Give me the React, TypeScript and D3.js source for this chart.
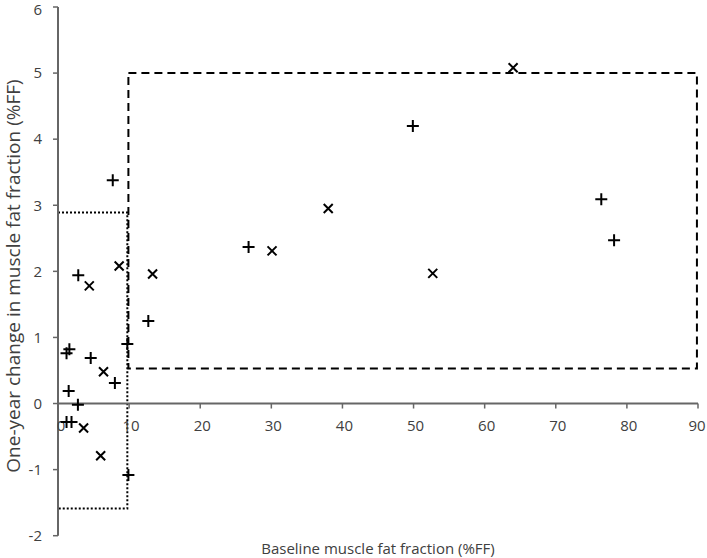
import React from "react";
import * as d3 from "d3";

const plusX = [7.7, 1.6, 1.2, 4.6, 8.0, 1.5, 2.8, 1.2, 1.9, 9.9, 9.75, 12.7, 2.85, 26.8, 49.9, 76.4, 78.2];
const plusY = [3.38, 0.82, 0.76, 0.69, 0.31, 0.19, -0.02, -0.28, -0.28, -1.08, 0.9, 1.25, 1.94, 2.37, 4.2, 3.09, 2.47];

const crossX = [64.0, 38.0, 30.1, 52.7, 4.4, 8.6, 13.3, 6.4, 3.6, 6.0];
const crossY = [5.08, 2.95, 2.31, 1.97, 1.78, 2.08, 1.96, 0.48, -0.37, -0.79];

const xTicks = [0, 10, 20, 30, 40, 50, 60, 70, 80, 90];
const yTicks = [-2, -1, 0, 1, 2, 3, 4, 5, 6];

// regions: [x0, x1, y0, y1]
const dottedBox = [0, 9.75, -1.59, 2.89];
const dashedBox = [9.9, 89.85, 0.53, 5.0];

const xTitle = "Baseline muscle fat fraction (%FF)";
const yTitle = "One-year change in muscle fat fraction (%FF)";

export default function App() {
  const W = 707;
  const H = 558;
  const x = d3.scaleLinear().domain([0, 90]).range([58, 698]);
  const y = d3.scaleLinear().domain([-2, 6]).range([535.7, 7]);
  const axisColor = "#666";
  const font = "'Open Sans', 'Noto Sans', sans-serif";

  const boxPath = (b: number[]) =>
    `M${x(b[0])},${y(b[3])}H${x(b[1])}V${y(b[2])}H${x(b[0])}Z`;

  const xLabelShift = (t: number) => (t === 0 ? 3 : t === 90 ? -1 : 2);

  return (
    <svg
      width={W}
      height={H}
      style={{ position: "absolute", left: 0, top: 0, background: "#fff" }}
      fontFamily={font}
    >
      {/* boxes */}
      <path d={boxPath(dottedBox)} fill="none" stroke="#000" strokeWidth={2} strokeDasharray="2,2" />
      <path d={boxPath(dashedBox)} fill="none" stroke="#000" strokeWidth={2} strokeDasharray="8,5" />

      {/* y axis */}
      <line x1={x(0)} x2={x(0)} y1={y(-2)} y2={y(6)} stroke={axisColor} strokeWidth={2} />
      {yTicks.map((t) => (
        <g key={"y" + t}>
          <line x1={x(0) - 5} x2={x(0)} y1={y(t)} y2={y(t)} stroke={axisColor} strokeWidth={1.5} />
          <text x={x(0) - 16} y={y(t) + (t === 6 ? 2.5 : 0)} dy="0.35em" textAnchor="end" fontSize={15} fill="#404040">
            {t}
          </text>
        </g>
      ))}

      {/* x axis */}
      <line x1={x(0)} x2={x(90)} y1={y(0)} y2={y(0)} stroke={axisColor} strokeWidth={2} />
      {xTicks.map((t) => (
        <g key={"x" + t}>
          <line x1={x(t)} x2={x(t)} y1={y(0)} y2={y(0) + 5} stroke={axisColor} strokeWidth={1.5} />
          <text x={x(t) + xLabelShift(t)} y={y(0) + 27} textAnchor="middle" fontSize={15} fill="#404040">
            {t}
          </text>
        </g>
      ))}

      {/* plus markers */}
      {plusX.map((v, i) => {
        const cx = x(v);
        const cy = y(plusY[i]);
        return (
          <path
            key={"p" + i}
            d={`M${cx - 6},${cy}H${cx + 6}M${cx},${cy - 6}V${cy + 6}`}
            stroke="#000"
            strokeWidth={2}
          />
        );
      })}

      {/* cross markers */}
      {crossX.map((v, i) => {
        const cx = x(v);
        const cy = y(crossY[i]);
        const r = 4.5;
        return (
          <path
            key={"c" + i}
            d={`M${cx - r},${cy - r}L${cx + r},${cy + r}M${cx - r},${cy + r}L${cx + r},${cy - r}`}
            stroke="#000"
            strokeWidth={2}
          />
        );
      })}

      {/* titles */}
      <text x={378} y={554} textAnchor="middle" fontSize={15} fill="#404040">
        {xTitle}
      </text>
      <text
        transform={`translate(20,${276}) rotate(-90)`}
        textAnchor="middle"
        fontSize={19}
        fill="#404040"
      >
        {yTitle}
      </text>
    </svg>
  );
}
